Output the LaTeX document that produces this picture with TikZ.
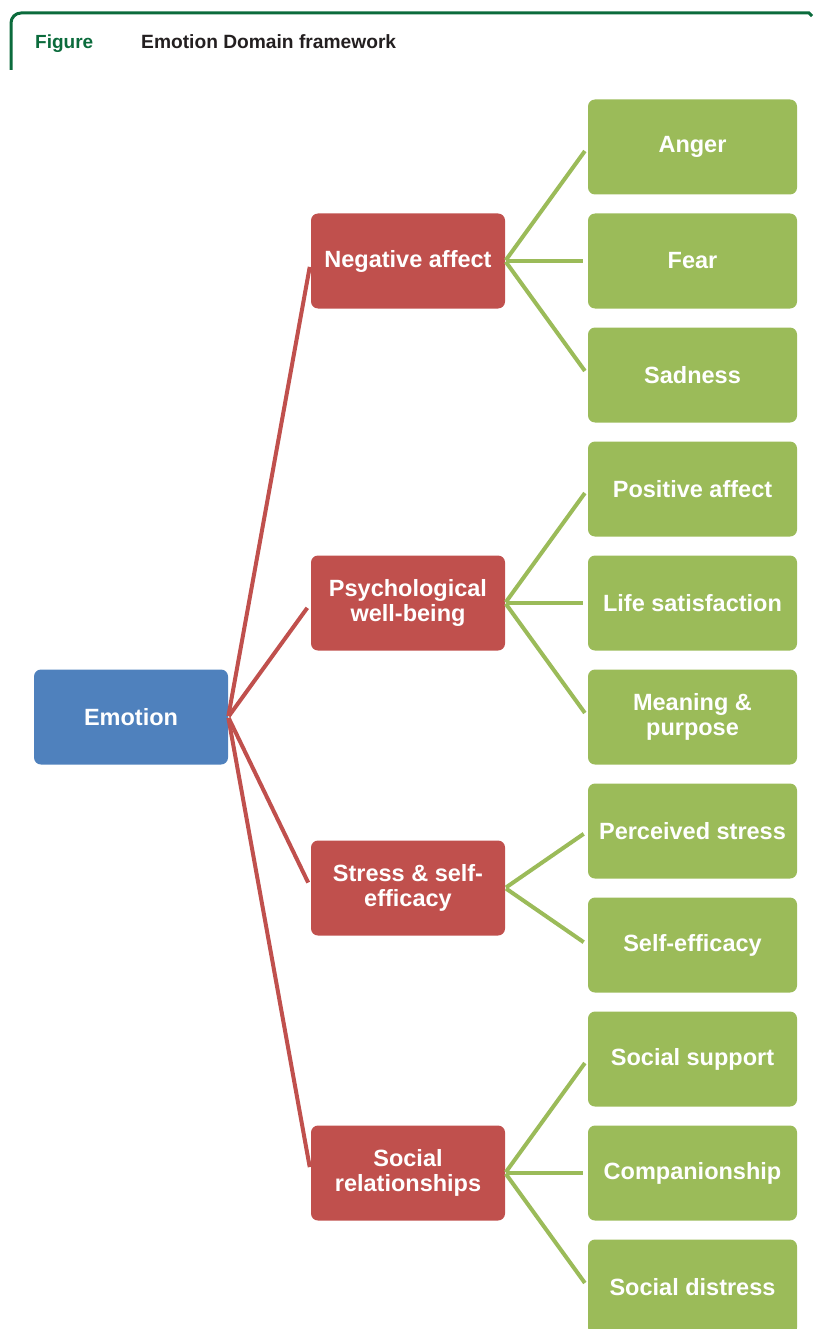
\documentclass[tikz,border=0pt]{standalone}
\usepackage{fontspec}
\setmainfont{Liberation Sans}
\definecolor{emoblue}{HTML}{4F81BD}
\definecolor{catred}{HTML}{C0504D}
\definecolor{leafgreen}{HTML}{9BBB59}
\definecolor{framegreen}{HTML}{0B6B3C}
\definecolor{titlegray}{HTML}{231F20}
\begin{document}
\begin{tikzpicture}[x=1pt,y=-1pt,
  box/.style={rounded corners=7pt, inner sep=0pt, align=center, text=white,
    font=\fontsize{23.5}{24.5}\selectfont\bfseries},
  rootbox/.style={box, fill=emoblue, minimum width=194pt, minimum height=95pt},
  catbox/.style={box, fill=catred, minimum width=194pt, minimum height=95pt},
  leafbox/.style={box, fill=leafgreen, minimum width=209pt, minimum height=95pt},
  redline/.style={draw=catred, line width=4pt, shorten <=1pt, shorten >=6pt},
  greenline/.style={draw=leafgreen, line width=4pt, shorten <=1pt, shorten >=5pt},
]
\useasboundingbox (0,0) rectangle (814,1329);
% frame
\draw[framegreen, line width=3pt] (11,70) -- (11,23) arc[start angle=180, end angle=90, radius=10pt] -- (809,13) -- (812,16);
\node[anchor=base west, text=framegreen, font=\fontsize{19}{22}\selectfont\bfseries, inner sep=0pt] (fig) at (35,49) {Figure};
\node[anchor=base west, text=titlegray, font=\fontsize{19.2}{22}\selectfont\bfseries, inner sep=0pt] (ttl) at (141,49) {Emotion Domain framework};

% root
\node[rootbox] (emo) at (131,717) {Emotion};
% categories
\node[catbox] (na) at (408,261) {Negative affect};
\node[catbox] (pw) at (408,603) {Psychological\\well-being};
\node[catbox] (ss) at (408,888) {Stress \& self-\\efficacy};
\node[catbox] (sr) at (408,1173) {Social\\relationships};
% leaves
\node[leafbox] (l1) at (692.5,147) {Anger};
\node[leafbox] (l2) at (692.5,261) {Fear};
\node[leafbox] (l3) at (692.5,375) {Sadness};
\node[leafbox] (l4) at (692.5,489) {Positive affect};
\node[leafbox] (l5) at (692.5,603) {Life satisfaction};
\node[leafbox] (l6) at (692.5,717) {Meaning \&\\purpose};
\node[leafbox] (l7) at (692.5,831) {Perceived stress};
\node[leafbox] (l8) at (692.5,945) {Self-efficacy};
\node[leafbox] (l9) at (692.5,1059) {Social support};
\node[leafbox] (l10) at (692.5,1173) {Companionship};
\node[leafbox] (l11) at (692.5,1287) {Social distress};

% red connectors
\foreach \c in {na,pw,ss,sr} \draw[redline] (emo.east) -- (\c.west);
% green connectors
\foreach \l in {l1,l2,l3} \draw[greenline] (na.east) -- (\l.west);
\foreach \l in {l4,l5,l6} \draw[greenline] (pw.east) -- (\l.west);
\foreach \l in {l7,l8} \draw[greenline] (ss.east) -- (\l.west);
\foreach \l in {l9,l10,l11} \draw[greenline] (sr.east) -- (\l.west);
\end{tikzpicture}
\end{document}
